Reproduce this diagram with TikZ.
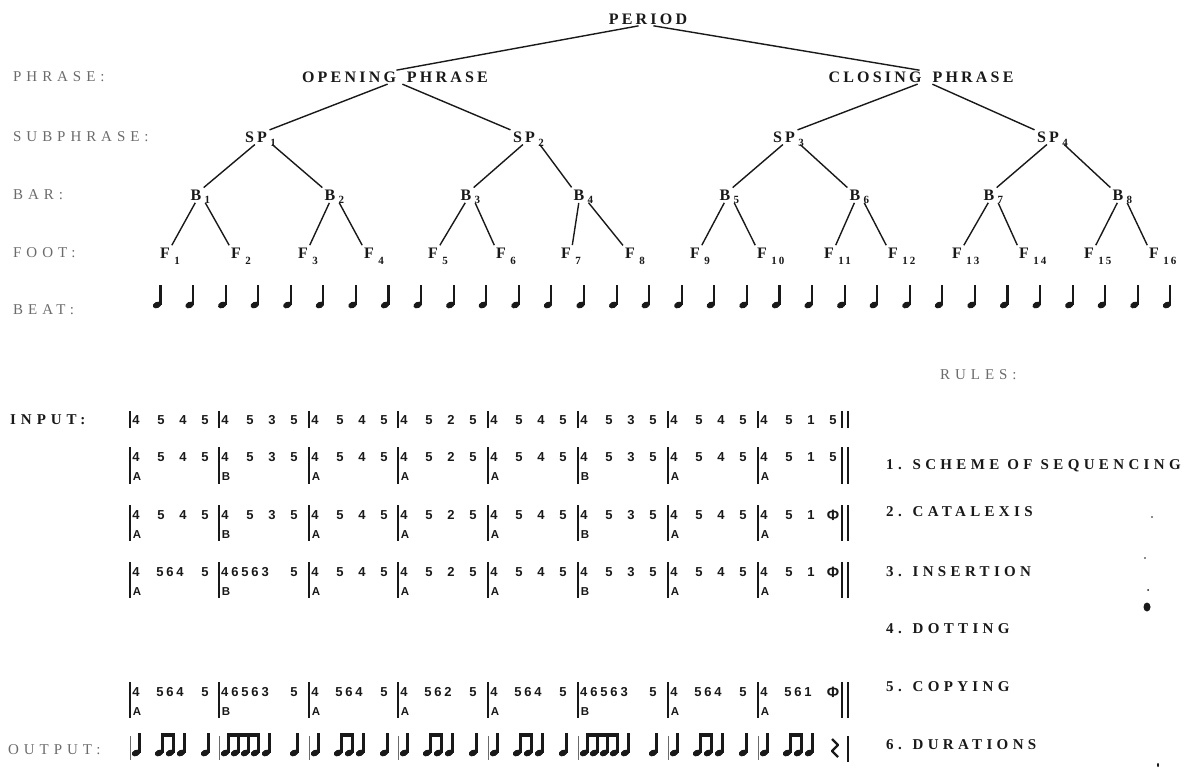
\documentclass[tikz,border=0pt]{standalone}
\usepackage{fontspec}
\setmainfont{Liberation Serif}
\newfontfamily\treefont[LetterSpace=20]{Liberation Serif}
\newfontfamily\labelfont[LetterSpace=33]{Liberation Serif}
\newfontfamily\rulefont[LetterSpace=29]{Liberation Serif}
\newfontfamily\digitfont[LetterSpace=22]{Liberation Sans}
\usetikzlibrary{calc}
\definecolor{ink}{gray}{0.1}
\definecolor{faded}{gray}{0.42}

\newcommand\phisign{{\fontsize{15}{15}\selectfont Φ}}
\newcommand\wordgap{\kern 11pt}
% one measure of four single pitches: name, bar x, digit y, third, fourth, section letter
\newcommand\plainmeasure[6]{%
  \node[digit] (#1-a) at (#2+6,#3) {4};
  \node[digit] (#1-b) at (#2+31,#3) {5};
  \node[digit] (#1-c) at (#2+53,#3) {#4};
  \node[digit] (#1-d) at (#2+75,#3) {#5};
  \node[seclabel] (#1-s) at (#2+7,#3+20) {#6};}
% measure with an inserted middle group: name, bar x, y, group, last, letter
\newcommand\longmeasure[6]{%
  \node[digit] (#1-a) at (#2+6,#3) {4};
  \node[digit] (#1-b) at (#2+40,#3) {#4};
  \node[digit] (#1-d) at (#2+75,#3) {#5};
  \node[seclabel] (#1-s) at (#2+7,#3+20) {#6};}
% measure opening with the run 46563: name, bar x, y, letter
\newcommand\runmeasure[4]{%
  \node[digit, anchor=west] (#1-a) at (#2+2,#3) {46563};
  \node[digit] (#1-d) at (#2+75,#3) {5};
  \node[seclabel] (#1-s) at (#2+7,#3+20) {#4};}
% beamed eighths: head y, first x, last x, list of head x
\newcommand\beamed[4]{%
  \foreach \hx in {#4} {\pic at (\hx,#1) {quarter};}
  \fill[ink] (#2+2.4,#1-20) rectangle (#3+4.5,#1-16);}
% rhythm of a measure 4 564 5
\newcommand\shortlongout[2]{%
  \draw[outbar] (#1,736) -- (#1,760);
  \pic at (#1+6,#2) {quarter};
  \beamed{#2}{#1+29}{#1+40}{#1+29,#1+40}
  \pic at (#1+51,#2) {quarter};
  \pic at (#1+75,#2) {quarter};}
% rhythm of a measure 46563 5
\newcommand\runout[2]{%
  \draw[outbar] (#1,736) -- (#1,760);
  \beamed{#2}{#1+6}{#1+36}{#1+6,#1+16,#1+26,#1+36}
  \pic at (#1+47,#2) {quarter};
  \pic at (#1+75,#2) {quarter};}

\begin{document}
\begin{tikzpicture}[x=1pt,y=-1pt,
  tree/.style={font=\treefont\bfseries\fontsize{16}{16}\selectfont, text=ink, inner sep=1pt},
  subscr/.style={font=\treefont\bfseries\fontsize{11}{11}\selectfont, text=ink, inner sep=0pt, anchor=west},
  levellabel/.style={font=\labelfont\fontsize{15}{15}\selectfont, text=faded, anchor=west, inner sep=0pt},
  iolabel/.style={font=\labelfont\bfseries\fontsize{15}{15}\selectfont, text=ink, anchor=west, inner sep=0pt},
  rulelabel/.style={font=\rulefont\bfseries\fontsize{15}{15}\selectfont, text=ink, anchor=west, inner sep=0pt},
  link/.style={draw=ink, line width=1.4pt, shorten <=1.5pt, shorten >=1.5pt},
  digit/.style={font=\digitfont\bfseries\fontsize{13}{13}\selectfont, text=ink, inner sep=0pt},
  seclabel/.style={font=\digitfont\bfseries\fontsize{11.5}{11.5}\selectfont, text=ink, inner sep=0pt},
  barline/.style={draw=ink, line width=1.8pt},
  thinbar/.style={draw=ink, line width=1.2pt},
  outbar/.style={draw=faded, line width=1pt},
  quarter/.pic={
    \fill[ink, rotate=25] (0,0) ellipse [x radius=4.4pt, y radius=3.1pt];
    \fill[ink] (2.4,-0.5) rectangle (4.5,-20);
  },
]
\useasboundingbox (0,0) rectangle (1195,774);

% ---------- metrical tree ----------
\node[tree] (period) at (648,19) {PERIOD};
\node[tree] (open) at (395,77) {OPENING\wordgap PHRASE};
\node[tree] (close) at (921,77) {CLOSING\wordgap PHRASE};
\foreach \x [count=\i] in {256,524,784,1048} {
  \node[tree] (sp\i) at (\x,137) {SP};
  \node[subscr] (sp\i-n) at ([xshift=2pt,yshift=-6pt]sp\i.east) {\i};
}
\foreach \x [count=\i] in {196,330,466,579,725,855,989,1118} {
  \node[tree] (b\i) at (\x,195) {B};
  \node[subscr] (b\i-n) at ([xshift=2pt,yshift=-5pt]b\i.east) {\i};
}
\foreach \x [count=\i] in {165,236,303,369,433,501,566,630,695,762,829,893,957,1024,1089,1154} {
  \node[tree] (f\i) at (\x,253) {F};
  \node[subscr] (f\i-n) at ([xshift=3pt,yshift=-8pt]f\i.east) {\i};
}

\draw[link] ([xshift=-8pt]period.south) -- (open.north);
\draw[link] ([xshift=4pt]period.south) -- (close.north);
\draw[link] ([xshift=-6pt]open.south) -- (sp1.north east);
\draw[link] ([xshift=6pt]open.south) -- (sp2.north west);
\draw[link] ([xshift=-2pt]close.south) -- (sp3.north east);
\draw[link] ([xshift=10pt]close.south) -- (sp4.north west);
\foreach \p in {1,...,4} {
  \pgfmathtruncatemacro\l{2*\p-1}
  \pgfmathtruncatemacro\r{2*\p}
  \draw[link] (sp\p.south) -- (b\l.north east);
  \draw[link] ([xshift=3pt]sp\p.south east) -- (b\r.north west);
}
\foreach \p in {1,...,8} {
  \pgfmathtruncatemacro\l{2*\p-1}
  \pgfmathtruncatemacro\r{2*\p}
  \draw[link] (b\p.south) -- (f\l.north east);
  \draw[link] ([xshift=2pt]b\p.south east) -- (f\r.north west);
}

% beats
\foreach \i in {0,...,31} \pic at ({157+32.58*\i},305) {quarter};

% level names
\node[levellabel] (lphrase) at (13,77) {PHRASE:};
\node[levellabel] (lsub) at (13,137) {SUBPHRASE:};
\node[levellabel] (lbar) at (13,195) {BAR:};
\node[levellabel] (lfoot) at (13,253) {FOOT:};
\node[levellabel] (lbeat) at (13,310) {BEAT:};

% ---------- derivation ----------
\node[iolabel] (linput) at (10,420) {INPUT:};
\node[levellabel] (loutput) at (8,750) {OUTPUT:};
\node[levellabel] (lrules) at (940,375) {RULES:};

% input
\foreach \bx/\c [count=\m] in {130/4,219/3,309/4,398/2,488/4,578/3,668/4,758/1} {
  \draw[thinbar] (\bx,411) -- (\bx,428);
  \plainmeasure{in-\m}{\bx}{420}{\c}{5}{}
}
\draw[barline] (842,411) -- (842,428);
\draw[barline, line width=2.6pt] (848,411) -- (848,428);

% 1. scheme of sequencing
\foreach \bx/\c/\L [count=\m] in {130/4/A,219/3/B,309/4/A,398/2/A,488/4/A,578/3/B,668/4/A,758/1/A} {
  \draw[barline] (\bx,447) -- (\bx,484);
  \plainmeasure{sq-\m}{\bx}{457}{\c}{5}{\L}
}
\draw[barline, line width=2.6pt] (842,447) -- (842,484);
\draw[barline, line width=2.6pt] (848,447) -- (848,484);

% 2. catalexis
\foreach \bx/\c/\d/\L [count=\m] in {130/4/5/A,219/3/5/B,309/4/5/A,398/2/5/A,488/4/5/A,578/3/5/B,668/4/5/A,758/1/\phisign/A} {
  \draw[barline] (\bx,505) -- (\bx,541);
  \plainmeasure{ca-\m}{\bx}{515}{\c}{\d}{\L}
}
\draw[barline] (842,505) -- (842,541);
\draw[barline, line width=2.6pt] (848,505) -- (848,541);

% 3. insertion
\draw[barline] (130,562) -- (130,598);
\longmeasure{is-1}{130}{572}{564}{5}{A}
\draw[barline] (219,562) -- (219,598);
\runmeasure{is-2}{219}{572}{B}
\foreach \bx/\c/\d/\L [count=\m from 3] in {309/4/5/A,398/2/5/A,488/4/5/A,578/3/5/B,668/4/5/A,758/1/\phisign/A} {
  \draw[barline] (\bx,562) -- (\bx,598);
  \plainmeasure{is-\m}{\bx}{572}{\c}{\d}{\L}
}
\draw[barline] (842,562) -- (842,598);
\draw[barline, line width=2.6pt] (848,562) -- (848,598);

% 5. copying
\foreach \bx/\g/\d [count=\m] in {130/564/5,309/564/5,398/562/5,488/564/5,668/564/5,758/561/\phisign} {
  \draw[barline] (\bx,682) -- (\bx,718);
  \longmeasure{cp-\m}{\bx}{692}{\g}{\d}{A}
}
\foreach \bx [count=\m] in {219,578} {
  \draw[barline] (\bx,682) -- (\bx,718);
  \runmeasure{cr-\m}{\bx}{692}{B}
}
\draw[barline] (842,682) -- (842,718);
\draw[barline, line width=2.6pt] (848,682) -- (848,718);

% 6. durations
\shortlongout{130}{753}
\runout{219}{753}
\shortlongout{309}{753}
\shortlongout{398}{753}
\shortlongout{488}{753}
\runout{578}{753}
\shortlongout{668}{753}
\draw[outbar] (758,736) -- (758,760);
\pic at (764,753) {quarter};
\beamed{753}{787}{798}{787,798}
\pic at (809,753) {quarter};
\draw[ink, line width=2.2pt, line join=round] (832,739) -- (838,745) -- (832,751) -- (838,757);
\draw[barline] (848,736) -- (848,762);

% rules
\node[rulelabel] (r1) at (886,466) {1. SCHEME OF SEQUENCING};
\node[rulelabel] (r2) at (886,512) {2. CATALEXIS};
\node[rulelabel] (r3) at (886,572) {3. INSERTION};
\node[rulelabel] (r4) at (886,629) {4. DOTTING};
\node[rulelabel] (r5) at (886,687) {5. COPYING};
\node[rulelabel] (r6) at (886,745) {6. DURATIONS};

% specks of dirt on the sheet
\fill[ink] (1147,607) ellipse [x radius=3.5pt, y radius=4.5pt];
\fill[ink] (1148,590) circle (1pt);
\fill[ink] (1152,517) circle (0.8pt);
\fill[ink] (1145,558) circle (0.8pt);
\fill[ink] (1158,765) ellipse [x radius=1pt, y radius=2pt];
\end{tikzpicture}
\end{document}
